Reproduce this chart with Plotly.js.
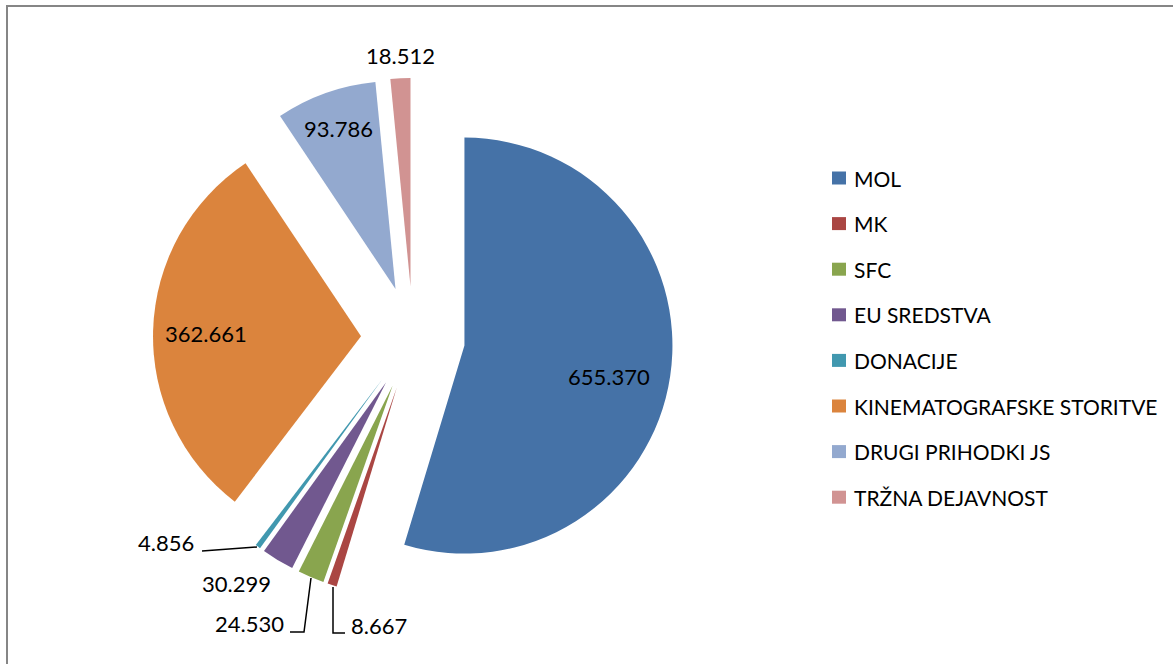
<!DOCTYPE html>
<html>
<head>
<meta charset="utf-8">
<script src="https://cdn.plot.ly/plotly-3.0.1.min.js"></script>
<style>
html,body{margin:0;padding:0;background:#fff;}
#chart{width:1173px;height:664px;}
</style>
</head>
<body>
<div id="chart"></div>
<script>
// ---- data ----
var categories = ["MOL", "MK", "SFC", "EU SREDSTVA", "DONACIJE", "KINEMATOGRAFSKE STORITVE", "DRUGI PRIHODKI JS", "TRŽNA DEJAVNOST"];
var values = [655370, 8667, 24530, 30299, 4856, 362661, 93786, 18512];
var colors = ["#4572A7", "#AA4643", "#89A54E", "#71588F", "#4198AF", "#DB843D", "#93A9CF", "#D19392"];

// ---- layout helpers ----
var W = 1173, H = 664;
function px(x){ return x / W; }
function py(y){ return 1 - y / H; }
function fmt(v){ return String(v).replace(/\B(?=(\d{3})+(?!\d))/g, '.'); }

var FONT = "Lato, 'Open Sans', sans-serif";
var cx = 413, cy = 338, half = 260;

var trace = {
  type: 'pie',
  labels: categories,
  values: values,
  marker: {colors: colors, line: {width: 0}},
  pull: categories.map(function(){ return 0.25; }),
  sort: false,
  direction: 'clockwise',
  rotation: 0,
  textinfo: 'none',
  hoverinfo: 'label+value',
  showlegend: false,
  domain: {x: [px(cx - half), px(cx + half)], y: [py(cy + half), py(cy - half)]}
};

// data label positions (text centres, pixels)
var labelPos = [[609, 376], [379, 625], [249, 623], [236, 583], [166, 542], [206, 333], [338, 129], [400, 55]];
var annotations = [];
values.forEach(function(v, i){
  annotations.push({
    x: px(labelPos[i][0]), y: py(labelPos[i][1]), xref: 'paper', yref: 'paper',
    text: fmt(v), showarrow: false, xanchor: 'center', yanchor: 'middle',
    font: {family: FONT, size: 22, color: '#000'}
  });
});

// custom legend
var legTop = 178, legStep = 45.6, legX = 832;
var shapes = [];
categories.forEach(function(c, i){
  var yc = legTop + i * legStep;
  shapes.push({type: 'rect', xref: 'paper', yref: 'paper',
    x0: px(legX), x1: px(legX + 14), y0: py(yc + 6.5), y1: py(yc - 6.5),
    fillcolor: colors[i], line: {width: 0}});
  annotations.push({
    x: px(legX + 20), y: py(yc), xref: 'paper', yref: 'paper',
    text: c, showarrow: false, xanchor: 'left', yanchor: 'middle',
    font: {family: FONT, size: 21, color: '#000'}
  });
});

// leader lines
function pathPx(pts){
  return pts.map(function(p, k){ return (k ? 'L' : 'M') + px(p[0]) + ',' + py(p[1]); }).join(' ');
}
var leaders = [
  [[202, 551], [257, 547]],
  [[290, 632], [304, 632], [311, 578]],
  [[345, 633], [333, 633], [333, 587]]
];
leaders.forEach(function(l){
  shapes.push({type: 'path', xref: 'paper', yref: 'paper', path: pathPx(l),
    line: {color: '#000', width: 1.5}});
});

// chart frame (top and left edges visible)
shapes.push({type: 'path', xref: 'paper', yref: 'paper',
  path: 'M' + px(7) + ',' + py(H + 5) + ' L' + px(7) + ',' + py(6) + ' L' + px(W + 5) + ',' + py(6),
  line: {color: '#868686', width: 2}});

var layout = {
  width: W, height: H,
  margin: {l: 0, r: 0, t: 0, b: 0},
  paper_bgcolor: '#fff',
  showlegend: false,
  annotations: annotations,
  shapes: shapes,
  font: {family: FONT}
};

Plotly.newPlot('chart', [trace], layout, {displayModeBar: false, staticPlot: true});
</script>
</body>
</html>
